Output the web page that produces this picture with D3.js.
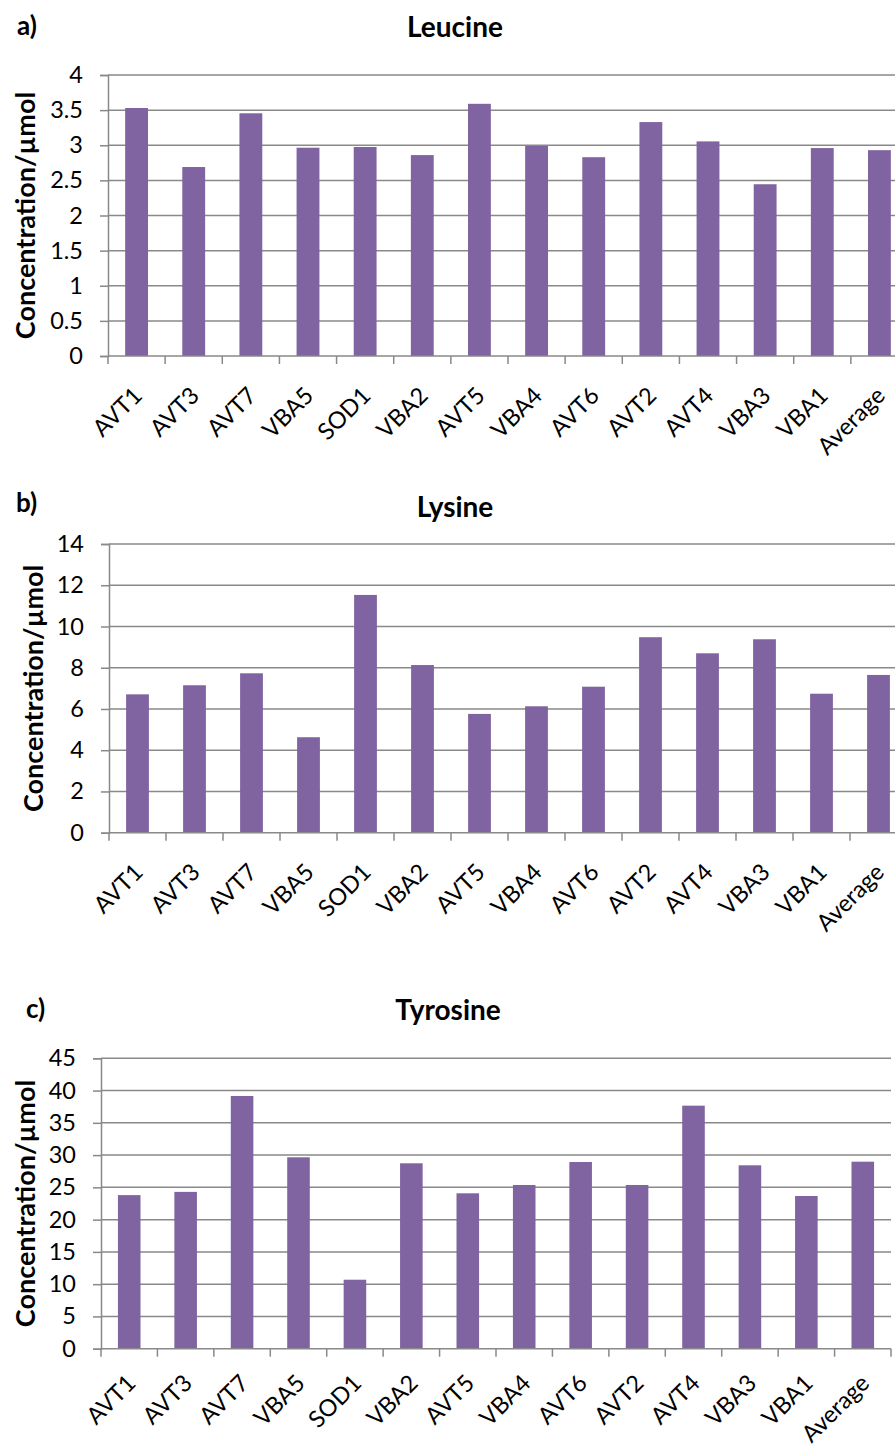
<!DOCTYPE html>
<html>
<head>
<meta charset="utf-8">
<script src="https://cdn.jsdelivr.net/npm/d3@7/dist/d3.min.js"></script>
<style>
  html, body { margin: 0; padding: 0; background: #fff; }
  svg { display: block; font-family: Lato, "Open Sans", sans-serif; }
</style>
</head>
<body>
<svg id="chart" width="895" height="1448"></svg>
<script>
// Sample names along the x axis (same order in all three panels)
const categories = ["AVT1", "AVT3", "AVT7", "VBA5", "SOD1", "VBA2", "AVT5",
                    "VBA4", "AVT6", "AVT2", "AVT4", "VBA3", "VBA1", "Average"];

// Amino-acid concentrations (µmol)
const leucine  = [3.53, 2.69, 3.455, 2.965, 2.975, 2.86, 3.59, 2.99, 2.83, 3.33, 3.055, 2.445, 2.96, 2.93];
const lysine   = [6.71, 7.15, 7.73, 4.63, 11.53, 8.13, 5.76, 6.13, 7.08, 9.48, 8.70, 9.38, 6.74, 7.65];
const tyrosine = [23.8, 24.3, 39.16, 29.66, 10.69, 28.73, 24.08, 25.37, 28.93, 25.37, 37.66, 28.42, 23.66, 28.98];

// Y-axis tick values
const leucineTicks  = [0, 0.5, 1, 1.5, 2, 2.5, 3, 3.5, 4];
const lysineTicks   = [0, 2, 4, 6, 8, 10, 12, 14];
const tyrosineTicks = [0, 5, 10, 15, 20, 25, 30, 35, 40, 45];

const panelLetters = ["a)", "b)", "c)"];
const panelTitles  = ["Leucine", "Lysine", "Tyrosine"];
const yTitle = "Concentration/µmol";

const BAR = "#8064a2";
const GRID = "#898989";

const svg = d3.select("#chart");

function drawPanel(opt, values, ticks, letter, title) {
  const g = svg.append("g");
  const x = d3.scaleBand()
    .domain(categories)
    .range([opt.left, opt.right])
    .paddingInner(0.6)
    .paddingOuter(0.3);
  const y = d3.scaleLinear()
    .domain([0, d3.max(ticks)])
    .range([opt.bottom, opt.top]);

  // horizontal gridlines
  g.append("g").selectAll("line")
    .data(ticks.filter(t => t > 0))
    .join("line")
    .attr("x1", opt.left).attr("x2", opt.right)
    .attr("y1", d => y(d)).attr("y2", d => y(d))
    .attr("stroke", GRID).attr("stroke-width", 1.5);

  // bars
  g.append("g").selectAll("rect")
    .data(values)
    .join("rect")
    .attr("x", (d, i) => x(categories[i]))
    .attr("width", x.bandwidth())
    .attr("y", d => y(d))
    .attr("height", d => y(0) - y(d))
    .attr("fill", BAR);

  // y axis
  const yAxis = d3.axisLeft(y)
    .tickValues(ticks)
    .tickSize(8)
    .tickPadding(17)
    .tickFormat(d => String(d));
  const ya = g.append("g")
    .attr("transform", `translate(${opt.left},0)`)
    .call(yAxis);
  ya.select(".domain").attr("stroke", GRID).attr("stroke-width", 1.5);
  ya.selectAll(".tick line").attr("stroke", GRID).attr("stroke-width", 1.5);
  ya.selectAll(".tick text")
    .attr("fill", "#000")
    .style("font-size", "23.5px")
    .style("font-family", "Lato, 'Open Sans', sans-serif");

  // x axis line and category-boundary ticks
  g.append("line")
    .attr("x1", opt.left).attr("x2", opt.right)
    .attr("y1", y(0)).attr("y2", y(0))
    .attr("stroke", GRID).attr("stroke-width", 1.5);
  g.append("g").selectAll("line")
    .data(d3.range(categories.length + 1))
    .join("line")
    .attr("x1", i => opt.left + i * x.step())
    .attr("x2", i => opt.left + i * x.step())
    .attr("y1", y(0)).attr("y2", y(0) + 8)
    .attr("stroke", GRID).attr("stroke-width", 1.5);

  // rotated category labels
  g.append("g").selectAll("text")
    .data(categories)
    .join("text")
    .attr("transform", d => `translate(${x(d) + x.bandwidth() / 2 + opt.lblDx},${y(0) + opt.lblDy}) rotate(-45)`)
    .attr("text-anchor", "end")
    .style("font-size", "23.5px")
    .attr("fill", "#000")
    .text(d => d);

  // y axis title
  svg.append("text")
    .attr("transform", `translate(${opt.yTitleX},${(opt.top + opt.bottom) / 2}) rotate(-90)`)
    .attr("text-anchor", "middle")
    .style("font-size", "27px")
    .style("font-weight", "bold")
    .text(yTitle);

  // chart title and panel letter
  svg.append("text")
    .attr("x", opt.titleX).attr("y", opt.titleY)
    .attr("text-anchor", "middle")
    .style("font-size", "28px")
    .style("font-weight", "bold")
    .text(title);
  svg.append("text")
    .attr("x", opt.letterX).attr("y", opt.letterY)
    .style("font-size", "26px")
    .style("font-weight", "bold")
    .text(letter);
}

drawPanel({left: 108, right: 908, top: 75, bottom: 356, lblDx: 7, lblDy: 41,
           yTitleX: 35, titleX: 455, titleY: 37, letterX: 17, letterY: 35},
          leucine, leucineTicks, panelLetters[0], panelTitles[0]);
drawPanel({left: 109, right: 907, top: 544, bottom: 832.7, lblDx: 7, lblDy: 41,
           yTitleX: 43, titleX: 455, titleY: 517, letterX: 16, letterY: 512},
          lysine, lysineTicks, panelLetters[1], panelTitles[1]);
drawPanel({left: 101, right: 891, top: 1058.3, bottom: 1348.7, lblDx: 8, lblDy: 36,
           yTitleX: 35, titleX: 448, titleY: 1020, letterX: 26, letterY: 1018},
          tyrosine, tyrosineTicks, panelLetters[2], panelTitles[2]);
</script>
</body>
</html>
